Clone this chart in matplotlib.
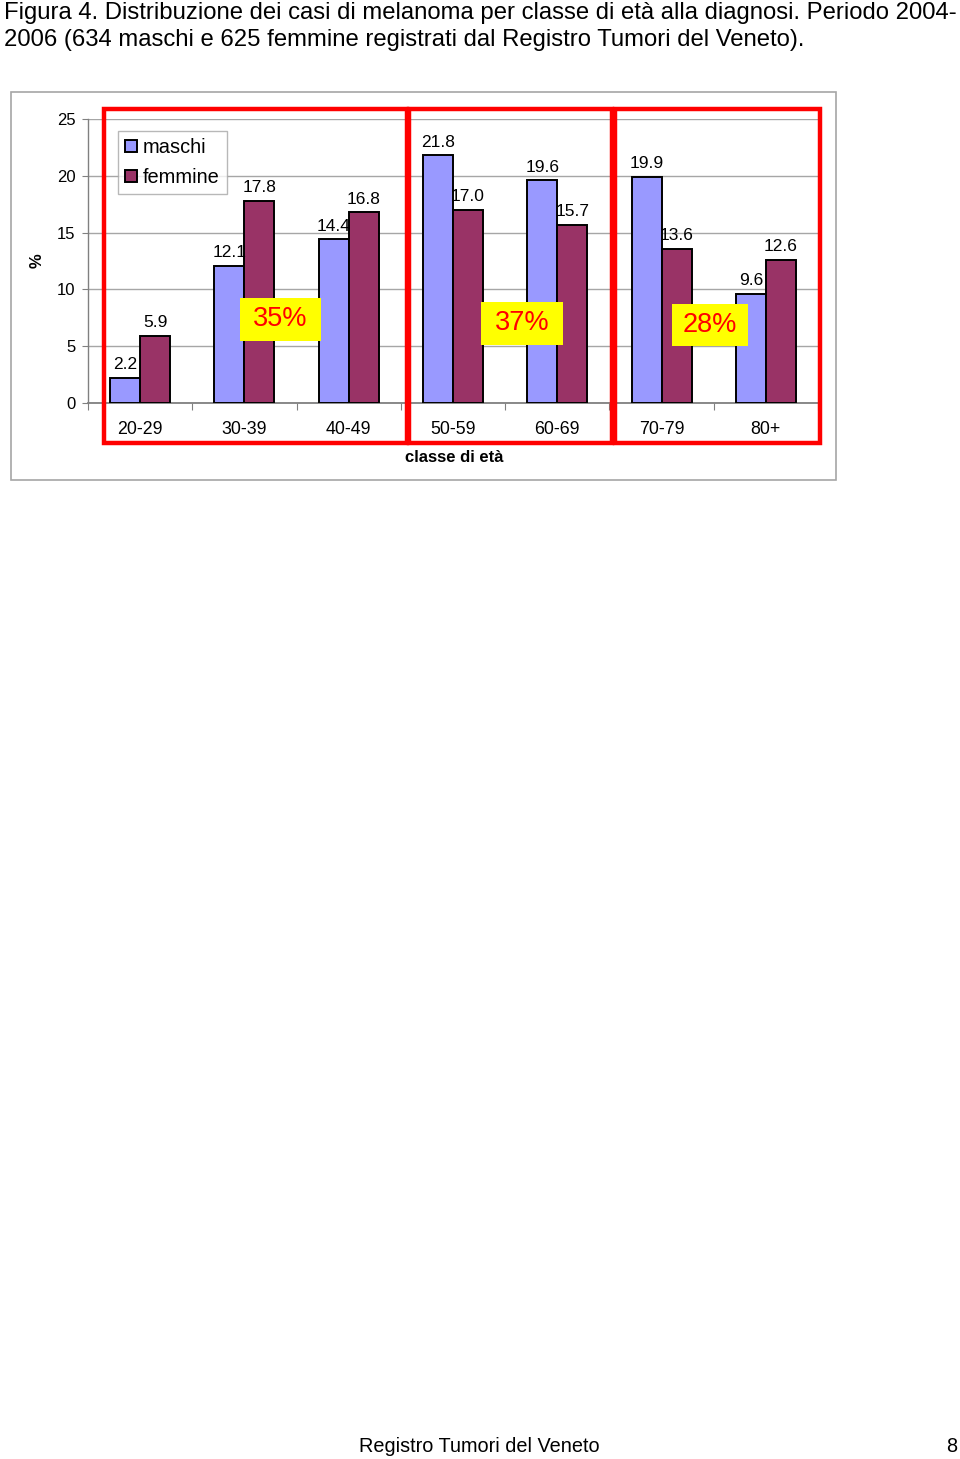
import matplotlib
matplotlib.use("Agg")
import matplotlib.pyplot as plt
import matplotlib.patches as mpatches
import numpy as np

plt.rcParams['font.family'] = ['Liberation Sans', 'DejaVu Sans']

categories = ["20-29", "30-39", "40-49", "50-59", "60-69", "70-79", "80+"]
maschi = [2.2, 12.1, 14.4, 21.8, 19.6, 19.9, 9.6]
femmine = [5.9, 17.8, 16.8, 17.0, 15.7, 13.6, 12.6]
group_labels = ["35%", "37%", "28%"]

W, H = 960, 1459
fig = plt.figure(figsize=(W / 100, H / 100), dpi=100)

def fx(px):
    return px / W

def fy(py):
    return 1 - py / H

# Title
fig.text(fx(4), fy(13), "Figura 4. Distribuzione dei casi di melanoma per classe di età alla diagnosi. Periodo 2004-",
         fontsize=17.2, va='center', ha='left')
fig.text(fx(4), fy(40), "2006 (634 maschi e 625 femmine registrati dal Registro Tumori del Veneto).",
         fontsize=17.2, va='center', ha='left')

# Outer chart frame
fig.patches.append(mpatches.Rectangle((fx(11), fy(480)), fx(836) - fx(11), fy(92) - fy(480),
                                      transform=fig.transFigure, fill=False, edgecolor='#a6a6a6',
                                      linewidth=1.2, zorder=0))

ax = fig.add_axes([fx(88), fy(403), fx(818) - fx(88), fy(119) - fy(403)])
x = np.arange(len(categories))
bw = 0.2875
b1 = ax.bar(x - bw / 2, maschi, bw, color='#9999FF', edgecolor='black', linewidth=1.4, label='maschi', zorder=3)
b2 = ax.bar(x + bw / 2, femmine, bw, color='#993366', edgecolor='black', linewidth=1.4, label='femmine', zorder=3)
ax.bar_label(b1, labels=[f"{v:.1f}" for v in maschi], padding=4, fontsize=12.5)
ax.bar_label(b2, labels=[f"{v:.1f}" for v in femmine], padding=4, fontsize=12.5)

ax.set_xlim(-0.5, len(categories) - 0.5)
ax.set_ylim(0, 25)
ax.set_yticks([0, 5, 10, 15, 20, 25])
ax.yaxis.grid(True, color='#a6a6a6', linewidth=1.0, zorder=0)
ax.set_axisbelow(True)
for s in ['top', 'right']:
    ax.spines[s].set_visible(False)
ax.spines['left'].set_color('#808080')
ax.spines['bottom'].set_color('#808080')
ax.spines['left'].set_linewidth(1.0)
ax.spines['bottom'].set_linewidth(1.3)
ax.tick_params(axis='y', labelsize=12, length=4, color='#808080', pad=5)
ax.set_xticks(np.arange(-0.5, len(categories) + 0.5, 1.0))
ax.set_xticklabels([])
ax.set_xticks(x, minor=True)
ax.set_xticklabels(categories, minor=True, fontsize=12.8)
ax.tick_params(axis='x', which='major', length=5, color='#808080')
ax.tick_params(axis='x', which='minor', length=0, pad=13)
ax.set_ylabel("%", fontsize=12, fontweight='bold', labelpad=9)
ax.set_facecolor('white')

leg = ax.legend(loc='upper left', bbox_to_anchor=((118 - 88) / 730, (403 - 131) / 284), fontsize=14.4,
                frameon=True, fancybox=False, edgecolor='#a6a6a6', handlelength=0.6, handleheight=0.6,
                handletextpad=0.3, borderpad=0.35, labelspacing=0.55, borderaxespad=0)
leg.get_frame().set_linewidth(1.0)
leg.set_zorder(5)

fig.text(fx(454), fy(457), "classe di età", fontsize=12, fontweight='bold', ha='center', va='center')

# Red group boxes
for (l, r) in [(104, 407), (409, 612), (615, 820)]:
    fig.patches.append(mpatches.Rectangle((fx(l), fy(443)), fx(r) - fx(l), fy(109) - fy(443),
                                          transform=fig.transFigure, fill=False, edgecolor='#ff0000',
                                          linewidth=3.2, zorder=10))

# Yellow percentage boxes
for lab, (l, t, r, b) in zip(group_labels, [(240, 298, 321, 341), (481, 302, 563, 345), (672, 304, 748, 346)]):
    fig.patches.append(mpatches.Rectangle((fx(l), fy(b)), fx(r) - fx(l), fy(t) - fy(b),
                                          transform=fig.transFigure, facecolor='#ffff00', edgecolor='none',
                                          zorder=11))
    fig.text(fx((l + r) / 2), fy((t + b) / 2), lab, fontsize=19.5, color='#ff0000', ha='center', va='center',
             zorder=12)

# Footer
fig.text(fx(479), fy(1447), "Registro Tumori del Veneto", fontsize=14.3, ha='center', va='center')
fig.text(fx(952), fy(1447), "8", fontsize=14.3, ha='center', va='center')

fig.savefig("out.png", dpi=100, facecolor='white')
